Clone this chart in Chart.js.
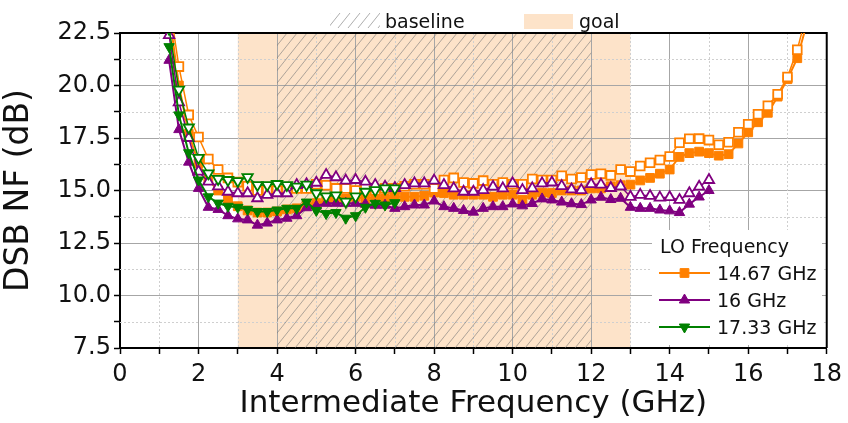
<!DOCTYPE html>
<html>
<head>
<meta charset="utf-8">
<script src="https://cdn.jsdelivr.net/npm/chart.js@4.4.1/dist/chart.umd.min.js"></script>
<style>
  html, body { margin: 0; padding: 0; background: #ffffff; }
  canvas { display: block; }
</style>
</head>
<body>
<canvas id="c" width="848" height="423"></canvas>
<script>
// ---------------- data ----------------
const ifFreq = [1.25, 1.5, 1.75, 2, 2.25, 2.5, 2.75, 3, 3.25, 3.5, 3.75, 4, 4.25, 4.5, 4.75, 5, 5.25, 5.5, 5.75, 6,
  6.25, 6.5, 6.75, 7, 7.25, 7.5, 7.75, 8, 8.25, 8.5, 8.75, 9, 9.25, 9.5, 9.75, 10, 10.25, 10.5, 10.75, 11,
  11.25, 11.5, 11.75, 12, 12.25, 12.5, 12.75, 13, 13.25, 13.5, 13.75, 14, 14.25, 14.5, 14.75, 15, 15.25, 15.5, 15.75, 16,
  16.25, 16.5, 16.75, 17, 17.25, 17.5];

const lo1467 = [23.5, 20.0, 17.7, 16.3, 15.5, 15.0, 14.6, 14.25, 14.05, 13.95,
  13.95, 14.0, 14.1, 14.15, 14.3, 14.4, 14.5, 14.6, 14.6, 14.7,
  14.6, 14.7, 14.6, 14.7, 14.7, 14.7, 14.75, 14.9, 14.88, 14.8,
  14.8, 14.8, 14.8, 14.7, 14.8, 14.8, 14.55, 14.8, 14.9, 14.88,
  15.0, 15.0, 15.0, 15.1, 15.1, 15.2, 15.25, 15.28, 15.48, 15.6,
  15.8, 16.0, 16.6, 16.78, 16.85, 16.78, 16.66, 16.73, 17.24, 17.77,
  18.25, 18.7, 19.47, 20.3, 21.3, 23.0];
const lo1467Open = [24.0, 20.9, 18.6, 17.55, 16.5, 16.0, 15.6, 15.4, 15.2, 15.0,
  15.0, 15.0, 15.0, 15.1, 15.1, 15.3, 15.25, 15.1, 15.1, 15.0,
  15.1, 15.0, 15.1, 15.1, 15.2, 15.3, 15.3, 15.1, 15.5, 15.6,
  15.38, 15.34, 15.47, 15.3, 15.38, 15.3, 15.3, 15.55, 15.5, 15.5,
  15.7, 15.55, 15.62, 15.76, 15.8, 15.72, 16.0, 15.9, 16.17, 16.32,
  16.45, 16.62, 17.27, 17.46, 17.47, 17.4, 17.18, 17.3, 17.77, 18.15,
  18.63, 19.04, 19.58, 20.4, 21.7, 23.5];

const lo16 = [21.2, 17.9, 16.35, 15.1, 14.2, 14.1, 13.8, 13.65, 13.6, 13.35,
  13.45, 13.6, 13.68, 13.8, 14.18, 14.26, 14.39, 14.39, 14.39, 14.39,
  14.35, 14.3, 14.3, 14.15, 14.23, 14.31, 14.31, 14.5, 14.23, 14.15,
  14.05, 13.97, 14.15, 14.23, 14.23, 14.36, 14.27, 14.38, 14.6, 14.55,
  14.45, 14.37, 14.33, 14.55, 14.68, 14.57, 14.63, 14.2, 14.15, 14.15,
  14.07, 14.03, 13.95, 14.35, 14.69, 15.0];
const lo16Open = [22.4, 19.2, 17.5, 15.9, 15.42, 15.2, 14.94, 14.87, 14.87, 14.63,
  14.79, 14.87, 14.87, 15.26, 15.3, 15.37, 15.74, 15.63, 15.47, 15.5,
  15.42, 15.26, 15.18, 15.12, 15.26, 15.34, 15.34, 15.47, 15.26, 15.1,
  14.94, 14.94, 15.02, 15.18, 15.1, 15.34, 15.02, 15.1, 15.34, 15.38,
  15.21, 15.05, 15.02, 15.3, 15.28, 15.12, 15.2, 14.7, 14.79, 14.74,
  14.66, 14.68, 14.55, 14.87, 15.18, 15.5];

const lo1733 = [21.85, 18.6, 16.8, 15.5, 14.7, 14.4, 14.25, 14.2, 14.1, 14.0,
  14.0, 14.07, 14.15, 14.15, 14.45, 14.05, 13.9, 13.95, 13.68, 13.8,
  14.2, 14.39, 14.31, 14.42];
const lo1733Open = [22.7, 19.8, 18.0, 16.55, 15.82, 15.55, 15.5, 15.45, 15.64, 15.26,
  15.26, 15.31, 15.26, 15.18, 15.28, 14.87, 14.72, 14.77, 14.47, 14.72,
  14.94, 15.02, 15.1, 15.1];

const seriesNames = ['14.67 GHz', '16 GHz', '17.33 GHz'];
const legendTitle = 'LO Frequency';
const goalBand = [3, 13];
const baselineBand = [4, 12];
const bandLabels = ['baseline', 'goal'];
const xRange = [0, 18];
const yRange = [7.5, 22.5];
const xLabel = 'Intermediate Frequency (GHz)';
const yLabel = 'DSB NF (dB)';

// ---------------- styles ----------------
const FONT = "'DejaVu Sans', sans-serif";
const ORANGE = '#ff8000', PURPLE = '#800080', GREEN = '#008000';
const GOAL_FILL = '#fde3c9';
const HATCH = 'rgba(120,120,120,0.6)';

function pts(vals) { return vals.map((v, i) => ({ x: ifFreq[i], y: v })); }

function ds(label, vals, color, style, rot, open, order) {
  return {
    label: label,
    data: pts(vals),
    showLine: true,
    borderColor: color,
    backgroundColor: color,
    borderWidth: open ? 1.5 : 2,
    pointStyle: style,
    rotation: rot,
    pointRadius: style === 'rect' ? 6.2 : 6,
    pointBorderWidth: open ? 1.8 : 1,
    pointBorderColor: color,
    pointBackgroundColor: open ? '#ffffff' : color,
    tension: 0,
    clip: 0,
    order: order
  };
}

function hatchRect(ctx, x0, y0, x1, y1, spacing) {
  ctx.save();
  ctx.beginPath();
  ctx.rect(x0, y0, x1 - x0, y1 - y0);
  ctx.clip();
  ctx.strokeStyle = HATCH;
  ctx.lineWidth = 1;
  const h = y1 - y0;
  const dx = h * 0.8;
  ctx.beginPath();
  for (let x = x0 - dx; x < x1 + spacing; x += spacing) {
    ctx.moveTo(x, y1);
    ctx.lineTo(x + dx, y0);
  }
  ctx.stroke();
  ctx.restore();
}

const bandsPlugin = {
  id: 'bands',
  beforeDraw(chart) {
    const { ctx, chartArea: a, scales: { x } } = chart;
    const g0 = x.getPixelForValue(goalBand[0]), g1 = x.getPixelForValue(goalBand[1]);
    ctx.save();
    ctx.fillStyle = GOAL_FILL;
    ctx.fillRect(g0, a.top, g1 - g0, a.bottom - a.top);
    ctx.restore();
  },
  beforeDatasetsDraw(chart) {
    const { ctx, chartArea: a, scales: { x, y } } = chart;
    ctx.save();
    ctx.strokeStyle = '#cfcfcf';
    ctx.lineWidth = 1;
    ctx.setLineDash([2, 2]);
    ctx.beginPath();
    x.ticks.forEach(t => {
      if (Math.abs(t.value % 2) > 1e-6) {
        const px = Math.round(x.getPixelForValue(t.value)) + 0.5;
        ctx.moveTo(px, a.top); ctx.lineTo(px, a.bottom);
      }
    });
    y.ticks.forEach(t => {
      const r = t.value / 2.5;
      if (Math.abs(r - Math.round(r)) > 1e-6) {
        const py = Math.round(y.getPixelForValue(t.value)) + 0.5;
        ctx.moveTo(a.left, py); ctx.lineTo(a.right, py);
      }
    });
    ctx.stroke();
    ctx.restore();
    const b0 = x.getPixelForValue(baselineBand[0]), b1 = x.getPixelForValue(baselineBand[1]);
    hatchRect(ctx, b0, a.top, b1, a.bottom, 10);
    ctx.save();
    ctx.strokeStyle = '#000';
    ctx.lineWidth = 2;
    ctx.beginPath();
    ctx.moveTo(a.left, a.top); ctx.lineTo(a.right, a.top); ctx.lineTo(a.right, a.bottom);
    ctx.stroke();
    ctx.restore();
    ctx.save();
    ctx.fillStyle = '#ffffff';
    ctx.fillRect(652, 230, 170, 115);
    ctx.restore();
  },
  afterDatasetsDraw(chart) {
    const { ctx } = chart;
    ctx.save();
    hatchRect(ctx, 330, 13, 380, 28, 10);
    ctx.fillStyle = GOAL_FILL;
    ctx.fillRect(524, 14, 49, 15);
    ctx.fillStyle = '#111';
    ctx.font = '19px ' + FONT;
    ctx.textBaseline = 'alphabetic';
    ctx.textAlign = 'left';
    ctx.fillText(bandLabels[0], 385, 28);
    ctx.fillText(bandLabels[1], 579, 28);
    ctx.restore();

    ctx.save();
    ctx.fillStyle = '#111';
    ctx.font = '19px ' + FONT;
    ctx.textBaseline = 'alphabetic';
    ctx.fillText(legendTitle, 660, 253);
    const items = [chart.data.datasets[5], chart.data.datasets[3], chart.data.datasets[1]];
    const ys = [273, 300, 327];
    items.forEach((d, i) => {
      const yy = ys[i];
      ctx.strokeStyle = d.borderColor;
      ctx.lineWidth = 2;
      ctx.beginPath();
      ctx.moveTo(659, yy); ctx.lineTo(710, yy);
      ctx.stroke();
      ctx.fillStyle = d.borderColor;
      ctx.strokeStyle = d.borderColor;
      ctx.lineWidth = 1;
      Chart.helpers.drawPoint(ctx, { pointStyle: d.pointStyle, radius: d.pointRadius, rotation: d.rotation, borderWidth: 1 }, 684.5, yy);
      ctx.fillStyle = '#111';
      ctx.fillText(seriesNames[i], 717, yy + 7);
    });
    ctx.restore();
  }
};

const chart = new Chart(document.getElementById('c'), {
  type: 'scatter',
  data: {
    datasets: [
      ds(seriesNames[2] + ' open', lo1733Open, GREEN, 'triangle', 180, true, 1),
      ds(seriesNames[2], lo1733, GREEN, 'triangle', 180, false, 2),
      ds(seriesNames[1] + ' open', lo16Open, PURPLE, 'triangle', 0, true, 3),
      ds(seriesNames[1], lo16, PURPLE, 'triangle', 0, false, 4),
      ds(seriesNames[0] + ' open', lo1467Open, ORANGE, 'rect', 0, true, 5),
      ds(seriesNames[0], lo1467, ORANGE, 'rect', 0, false, 6)
    ]
  },
  options: {
    responsive: false,
    animation: false,
    devicePixelRatio: 1,
    layout: { padding: { top: 33, right: 20, left: 0, bottom: 0 } },
    plugins: { legend: { display: false }, tooltip: { enabled: false } },
    scales: {
      x: {
        type: 'linear', min: xRange[0], max: xRange[1],
        ticks: {
          stepSize: 1, autoSkip: false, maxRotation: 0, padding: 6,
          color: '#111', font: { family: FONT, size: 24 },
          callback: v => (Math.abs(v % 2) < 1e-6 ? String(v) : '')
        },
        grid: {
          color: c => (c.tick && Math.abs(c.tick.value % 2) < 1e-6 ? '#a6a6a6' : 'rgba(0,0,0,0)'),
          lineWidth: 1, drawTicks: true, tickLength: 6, tickColor: '#000', tickWidth: 1.5
        },
        border: { color: '#000', width: 2 },
        title: { display: true, text: xLabel, color: '#111', font: { family: FONT, size: 31 }, padding: { top: 0, bottom: 0 } },
        afterFit: s => { s.height = 75; }
      },
      y: {
        type: 'linear', min: yRange[0], max: yRange[1],
        ticks: {
          stepSize: 1.25, autoSkip: false, padding: 3,
          color: '#111', font: { family: FONT, size: 24 },
          callback: v => { const r = v / 2.5; return Math.abs(r - Math.round(r)) < 1e-6 ? v.toFixed(1) : ''; }
        },
        grid: {
          color: c => { if (!c.tick) return 'rgba(0,0,0,0)'; const r = c.tick.value / 2.5; return Math.abs(r - Math.round(r)) < 1e-6 ? '#a6a6a6' : 'rgba(0,0,0,0)'; },
          lineWidth: 1, drawTicks: true, tickLength: 6, tickColor: '#000', tickWidth: 1.5
        },
        border: { color: '#000', width: 2 },
        title: { display: true, text: yLabel, color: '#111', font: { family: FONT, size: 33 }, padding: { top: 0, bottom: 0 } },
        afterFit: s => { s.width = 120; }
      }
    }
  },
  plugins: [bandsPlugin]
});
</script>
</body>
</html>
